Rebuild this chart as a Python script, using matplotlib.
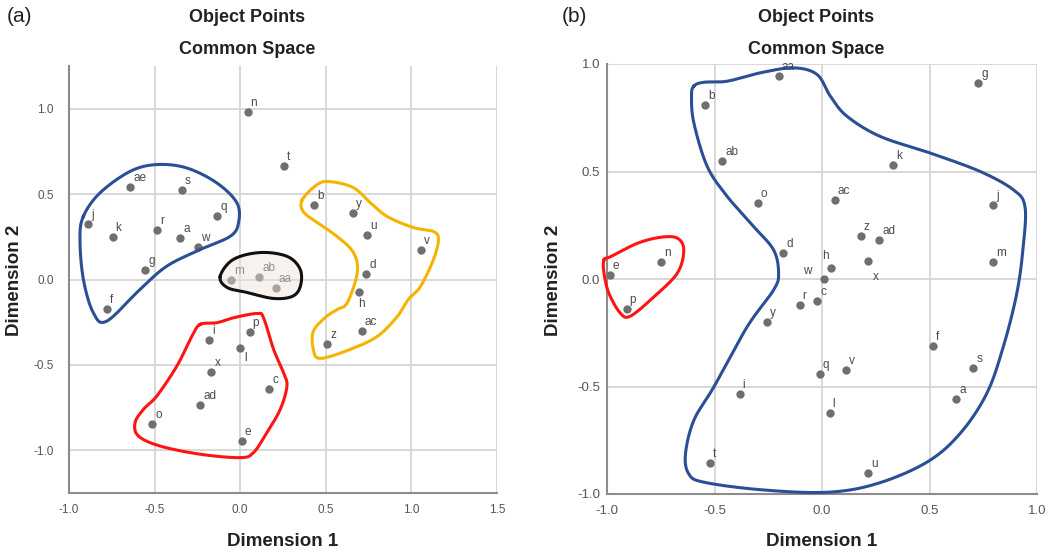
import numpy as np
import matplotlib.pyplot as plt

plt.rcParams['font.family'] = ['Liberation Sans', 'DejaVu Sans']

# ---- panel (a) object points
a_names = ['n', 'ae', 's', 'j', 'k', 'r', 'a', 'q', 'w', 'g', 'f', 'm', 't', 'b', 'y', 'u',
           'v', 'd', 'h', 'ac', 'ab', 'aa', 'p', 'i', 'l', 'x', 'c', 'ad', 'o', 'e', 'z']
a_x = [0.043, -0.643, -0.341, -0.887, -0.745, -0.487, -0.349, -0.135, -0.246, -0.554, -0.776,
       -0.053, 0.253, 0.431, 0.657, 0.741, 1.058, 0.735, 0.694, 0.711, 0.111, 0.209, 0.055,
       -0.183, -0.002, -0.168, 0.171, -0.234, -0.515, 0.010, 0.509]
a_y = [0.980, 0.544, 0.526, 0.327, 0.250, 0.288, 0.242, 0.370, 0.193, 0.057, -0.173,
       0.000, 0.663, 0.437, 0.390, 0.259, 0.170, 0.033, -0.072, -0.302, 0.016, -0.051, -0.307,
       -0.357, -0.402, -0.544, -0.643, -0.737, -0.848, -0.945, -0.378]

# ---- panel (b) object points
b_names = ['aa', 'b', 'ab', 'o', 'd', 'e', 'n', 'p', 'r', 'y', 'g', 'k', 'ac', 'j', 'z', 'ad',
           'x', 'h', 'w', 'm', 'c', 'f', 'q', 'v', 's', 'i', 'a', 'l', 't', 'u']
b_x = [-0.202, -0.542, -0.464, -0.299, -0.180, -0.988, -0.750, -0.909, -0.104, -0.257, 0.727,
       0.331, 0.060, 0.797, 0.181, 0.266, 0.215, 0.042, 0.009, 0.797, -0.022, 0.517, -0.011,
       0.113, 0.704, -0.383, 0.625, 0.035, -0.520, 0.215]
b_y = [0.942, 0.810, 0.547, 0.353, 0.120, 0.020, 0.078, -0.138, -0.123, -0.199, 0.911,
       0.528, 0.368, 0.343, 0.202, 0.183, 0.084, 0.050, 0.001, 0.078, -0.104, -0.312, -0.441,
       -0.421, -0.416, -0.533, -0.556, -0.621, -0.856, -0.901]

# ---- hand drawn group outlines (data units)
a_blue = [(-0.916, 0.370), (-0.819, 0.507), (-0.643, 0.633), (-0.487, 0.673), (-0.312, 0.653),
          (-0.136, 0.565), (-0.019, 0.448), (-0.010, 0.331), (-0.058, 0.253), (-0.234, 0.175),
          (-0.429, 0.078), (-0.585, -0.058), (-0.780, -0.244), (-0.858, -0.195),
          (-0.916, 0.000), (-0.936, 0.234)]
a_black = [(-0.117, 0.018), (-0.041, 0.117), (0.117, 0.158), (0.275, 0.135), (0.351, 0.058),
           (0.351, -0.041), (0.304, -0.099), (0.193, -0.111), (0.041, -0.076), (-0.076, -0.047)]
a_yellow = [(0.363, 0.468), (0.450, 0.556), (0.526, 0.573), (0.661, 0.538), (0.760, 0.450),
            (0.860, 0.368), (1.012, 0.304), (1.129, 0.281), (1.158, 0.234), (1.129, 0.117),
            (1.053, -0.041), (0.982, -0.117), (0.918, -0.216), (0.801, -0.333), (0.643, -0.409),
            (0.468, -0.462), (0.427, -0.409), (0.427, -0.304), (0.497, -0.222), (0.567, -0.175),
            (0.626, -0.135), (0.684, 0.041), (0.661, 0.158), (0.567, 0.251), (0.450, 0.333),
            (0.368, 0.398)]
a_red = [(-0.234, -0.263), (-0.136, -0.253), (-0.039, -0.224), (0.098, -0.199), (0.136, -0.224),
         (0.195, -0.409), (0.253, -0.546), (0.273, -0.624), (0.234, -0.760), (0.156, -0.896),
         (0.078, -1.013), (0.000, -1.043), (-0.234, -1.023), (-0.468, -0.975), (-0.595, -0.916),
         (-0.614, -0.838), (-0.565, -0.760), (-0.487, -0.682), (-0.370, -0.507), (-0.282, -0.332)]
b_red = [(-1.014, 0.089), (-0.983, 0.104), (-0.859, 0.166), (-0.751, 0.194), (-0.673, 0.190),
         (-0.643, 0.135), (-0.673, 0.027), (-0.782, -0.083), (-0.890, -0.172), (-0.937, -0.160),
         (-0.991, -0.067), (-1.014, 0.027)]
b_blue = [(-0.596, 0.897), (-0.550, 0.915), (-0.441, 0.920), (-0.287, 0.959), (-0.132, 0.982),
          (-0.023, 0.951), (0.039, 0.850), (0.116, 0.757), (0.271, 0.663), (0.503, 0.586),
          (0.736, 0.500), (0.890, 0.415), (0.944, 0.337), (0.936, 0.151), (0.906, -0.067),
          (0.843, -0.316), (0.766, -0.533), (0.642, -0.719), (0.488, -0.852), (0.255, -0.952),
          (0.023, -0.992), (-0.287, -0.980), (-0.550, -0.945), (-0.620, -0.906), (-0.635, -0.813),
          (-0.596, -0.657), (-0.503, -0.502), (-0.348, -0.222), (-0.225, -0.051), (-0.202, 0.027),
          (-0.225, 0.135), (-0.318, 0.244), (-0.441, 0.384), (-0.534, 0.524), (-0.596, 0.726),
          (-0.607, 0.850)]

a_special = {'l': (4, -4, 'left', 'top'), 'h': (2, -6, 'center', 'top')}
b_special = {'h': (-6, 6, 'center', 'bottom'), 'w': (-12, 2, 'right', 'bottom'),
             'x': (8, -10, 'center', 'top')}


def smooth_closed(pts, n=24):
    P = np.asarray(pts, dtype=float)
    m = len(P)
    t = np.linspace(0, 1, n, endpoint=False)[:, None]
    segs = []
    for i in range(m):
        p0, p1, p2, p3 = P[(i - 1) % m], P[i], P[(i + 1) % m], P[(i + 2) % m]
        segs.append(0.5 * (2 * p1 + (-p0 + p2) * t + (2 * p0 - 5 * p1 + 4 * p2 - p3) * t ** 2
                           + (-p0 + 3 * p1 - 3 * p2 + p3) * t ** 3))
    out = np.vstack(segs)
    return np.vstack([out, out[:1]])


def draw_panel(ax, names, xs, ys, special, xlim, ylim, xt, yt, tsize, ypad):
    ax.set_xlim(xlim)
    ax.set_ylim(ylim)
    ax.set_xticks(xt)
    ax.set_yticks(yt)
    ax.set_xticklabels(['%.1f' % v for v in xt])
    ax.set_yticklabels(['%.1f' % v for v in yt])
    ax.tick_params(length=0, labelsize=tsize, labelcolor='#555555')
    ax.tick_params(axis='x', pad=8)
    ax.tick_params(axis='y', pad=ypad)
    ax.grid(True, color='#d2d2d2', linewidth=1.2)
    ax.set_axisbelow(True)
    for s in ['top', 'right']:
        ax.spines[s].set_visible(False)
    for s in ['left', 'bottom']:
        ax.spines[s].set_color('#8c8c8c')
        ax.spines[s].set_linewidth(1.5)
    ax.scatter(xs, ys, s=36, color='#6f6f6f', zorder=3, linewidths=0)
    for nm, x, y in zip(names, xs, ys):
        dx, dy, ha, va = special.get(nm, (3, 3, 'left', 'bottom'))
        ax.annotate(nm, (x, y), xytext=(dx, dy), textcoords='offset pixels',
                    ha=ha, va=va, fontsize=8.5, color='#4a4a4a', zorder=4)


def outline(ax, pts, color, fill=None):
    c = smooth_closed(pts)
    if fill is not None:
        ax.fill(c[:, 0], c[:, 1], color=fill, alpha=0.45, zorder=5, linewidth=0)
    ax.plot(c[:, 0], c[:, 1], color=color, linewidth=2.2, zorder=6, clip_on=False,
            solid_joinstyle='round')


W, H = 1054, 555
fig = plt.figure(figsize=(W / 100, H / 100), dpi=100)
ax1 = fig.add_axes([69 / W, 1 - 493 / H, 428 / W, 427 / H])
ax2 = fig.add_axes([607 / W, 1 - 494 / H, 430 / W, 430 / H])

draw_panel(ax1, a_names, a_x, a_y, a_special, (-1.0, 1.5), (-1.25, 1.25),
           [-1.0, -0.5, 0.0, 0.5, 1.0, 1.5], [-1.0, -0.5, 0.0, 0.5, 1.0], 8.5, 11)
draw_panel(ax2, b_names, b_x, b_y, b_special, (-1.0, 1.0), (-1.0, 1.0),
           [-1.0, -0.5, 0.0, 0.5, 1.0], [-1.0, -0.5, 0.0, 0.5, 1.0], 9.5, 5)

outline(ax1, a_blue, '#2b4f95')
outline(ax1, a_black, '#111111', fill='#eee4da')
outline(ax1, a_yellow, '#f5b400')
outline(ax1, a_red, '#ff1414')
outline(ax2, b_blue, '#2b4f95')
outline(ax2, b_red, '#ff1414')

for cx in [247, 816]:
    fig.text(cx / W, 1 - 17 / H, 'Object Points', ha='center', va='center',
             fontsize=13, fontweight='bold', color='#222222')
    fig.text(cx / W, 1 - 49 / H, 'Common Space', ha='center', va='center',
             fontsize=13, fontweight='bold', color='#222222')
fig.text(7 / W, 1 - 17 / H, '(a)', ha='left', va='center', fontsize=15, color='#222222')
fig.text(562 / W, 1 - 17 / H, '(b)', ha='left', va='center', fontsize=15, color='#222222')
for cx in [283, 822]:
    fig.text(cx / W, 1 - 541 / H, 'Dimension 1', ha='center', va='center',
             fontsize=13.5, fontweight='bold', color='#222222')
for cx in [15, 553]:
    fig.text(cx / W, 1 - 280 / H, 'Dimension 2', ha='center', va='center', rotation=90,
             fontsize=13.5, fontweight='bold', color='#222222')

fig.savefig('out.png', dpi=100)
